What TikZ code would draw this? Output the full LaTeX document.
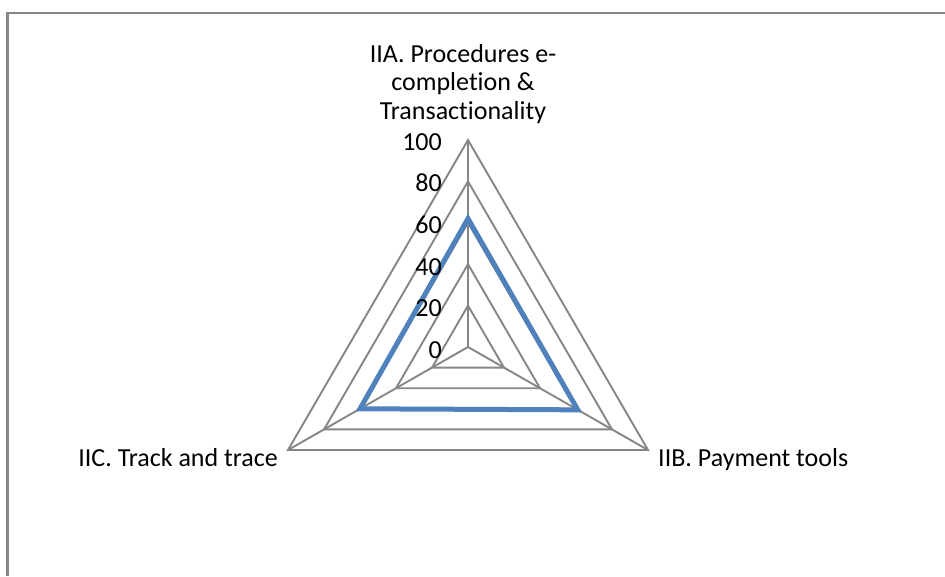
\documentclass[tikz,border=0pt]{standalone}
\usepackage{fontspec}
\setmainfont{Carlito}[Ligatures={NoCommon}]
\usetikzlibrary{calc}
\definecolor{gridgray}{HTML}{868686}
\definecolor{seriesblue}{HTML}{4F81BD}
\begin{document}
\begin{tikzpicture}[x=1pt,y=-1pt,
  frameline/.style={draw=gridgray, line width=2.2pt},
  gridline/.style={draw=gridgray, line width=1.9pt},
  series/.style={draw=seriesblue, line width=5pt, line join=miter},
  lbl/.style={font=\fontsize{26}{28.5}\selectfont, inner sep=0pt, text=black},
]
\useasboundingbox (0,0) rectangle (945,576);
\fill[white] (0,0) rectangle (945,576);

% chart frame (left and top edges)
\draw[frameline] (7.5,576) -- (7.5,13) -- (945,13);

% radar axes
\coordinate (O) at (468,347);
\coordinate (A) at (468,140);
\coordinate (B) at (648,450);
\coordinate (C) at (288,450);

% grid rings at 20, 40, ..., 100
\foreach \k in {1,...,5}{
  \draw[gridline] ($(O)!\k/5!(A)$) -- ($(O)!\k/5!(B)$) -- ($(O)!\k/5!(C)$) -- cycle;
}
\draw[gridline] (O) -- (A);
\draw[gridline] (O) -- (B);
\draw[gridline] (O) -- (C);

% data series
\draw[series] ($(O)!0.62!(A)$) -- ($(O)!0.61!(B)$) -- ($(O)!0.60!(C)$) -- cycle;

% value axis labels
\foreach \v/\y in {0/358,20/316.5,40/275,60/233,80/191.5,100/150}{
  \node[lbl, anchor=base east] (t\v) at (442,\y) {\v};
}

% category labels
\node[lbl, anchor=north, align=center] (catA) at (463,44)
  {IIA. Procedures e-\\completion \&\\Transactionality};
\node[lbl, anchor=base west] (catB) at (658,466) {IIB. Payment tools};
\node[lbl, anchor=base east] (catC) at (278,466) {IIC. Track and trace};
\end{tikzpicture}
\end{document}
